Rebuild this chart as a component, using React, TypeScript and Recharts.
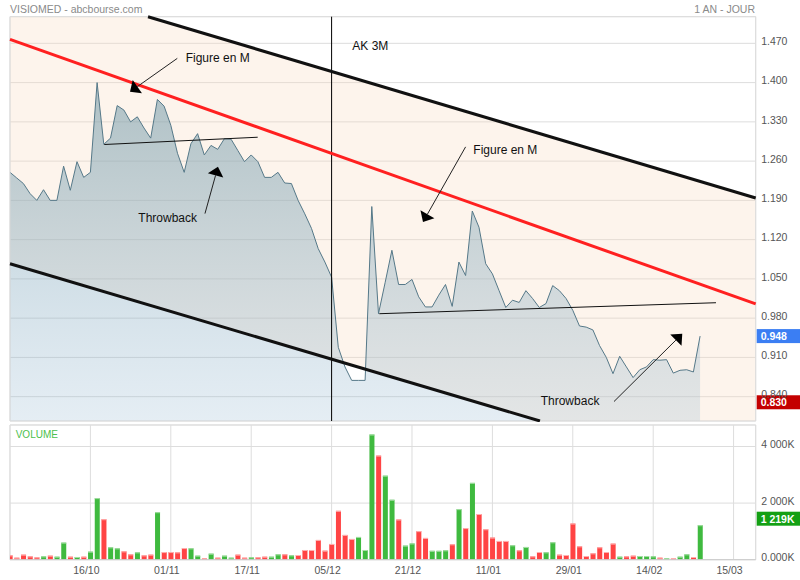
import React from 'react';
import {
  ComposedChart,
  Area,
  Bar,
  XAxis,
  YAxis,
  CartesianGrid,
  ReferenceLine,
  ReferenceArea,
  ReferenceDot,
} from 'recharts';

// daily closes, one per trading session (index 0 = left edge)
const closes = [
  1.240, 1.230, 1.220, 1.202, 1.190, 1.209, 1.190, 1.190, 1.251, 1.208,
  1.259, 1.231, 1.240, 1.400, 1.290, 1.301, 1.359, 1.351, 1.330, 1.339,
  1.319, 1.301, 1.370, 1.358, 1.324, 1.274, 1.240, 1.291, 1.309, 1.271,
  1.288, 1.281, 1.300, 1.299, 1.279, 1.259, 1.271, 1.259, 1.231, 1.231,
  1.240, 1.221, 1.220, 1.190, 1.166, 1.140, 1.104, 1.080, 1.053, 0.928,
  0.893, 0.869, 0.869, 0.869, 1.179, 0.988, 1.044, 1.101, 1.040, 1.040,
  1.049, 1.018, 1.000, 1.000, 1.021, 1.040, 1.001, 1.080, 1.056, 1.171,
  1.142, 1.077, 1.059, 1.029, 0.999, 1.012, 1.008, 1.029, 1.015, 0.999,
  1.006, 1.038, 1.029, 1.015, 0.994, 0.966, 0.964, 0.959, 0.931, 0.910,
  0.881, 0.912, 0.893, 0.874, 0.888, 0.893, 0.906, 0.905, 0.906, 0.882,
  0.887, 0.888, 0.884, 0.948,
];

// volumes in thousands of shares
const volumes = [
  153, 71, 178, 117, 82, 117, 142, 106, 603, 106,
  96, 106, 284, 2176, 1431, 437, 401, 295, 188, 259,
  153, 178, 1679, 270, 270, 259, 412, 401, 142, 46,
  213, 71, 142, 71, 178, 71, 83, 83, 106, 106,
  189, 189, 154, 166, 343, 343, 698, 319, 556, 1727,
  875, 733, 804, 343, 4424, 3679, 2969, 2118, 1420, 497,
  574, 1010, 769, 314, 314, 331, 544, 1787, 1118, 2715,
  1615, 1076, 781, 662, 662, 509, 331, 450, 118, 272,
  260, 615, 177, 166, 1278, 473, 130, 225, 438, 272,
  568, 106, 118, 142, 130, 130, 118, 71, 47, 59,
  106, 189, 95, 1219,
];

// 1 = up session (green), 0 = down session (red)
const volumeUp = [
  0, 0, 0, 0, 0, 1, 0, 1, 1, 0,
  1, 0, 1, 1, 0, 1, 1, 0, 0, 1,
  0, 0, 1, 0, 0, 0, 0, 1, 1, 0,
  1, 0, 1, 1, 0, 0, 1, 0, 0, 1,
  1, 0, 1, 0, 0, 0, 0, 0, 0, 0,
  0, 0, 1, 1, 1, 0, 1, 1, 0, 1,
  1, 0, 0, 1, 1, 1, 0, 1, 0, 1,
  0, 0, 0, 0, 0, 1, 0, 1, 0, 0,
  1, 1, 0, 0, 0, 0, 0, 0, 0, 0,
  0, 1, 0, 0, 1, 1, 1, 0, 1, 0,
  1, 1, 0, 1,
];

const xTicks = [12, 24, 36, 48, 60, 72, 84, 96, 108];
const xTickLabels = ['16/10', '01/11', '17/11', '05/12', '21/12', '11/01', '29/01', '14/02', '15/03'];
const priceTicks = [0.84, 0.91, 0.98, 1.05, 1.12, 1.19, 1.26, 1.33, 1.4, 1.47];
const volumeTicks = [0, 2000, 4000];
const volumeTickLabels = ['0.000K', '2 000K', '4 000K'];

const lastPrice = 0.948;
const lowPrice = 0.83;
const lastVolume = 1219;

// drawn channel (index, price)
const bandX = [0, 111.3];
const bandLow = [1.0771, 0.6824];
const bandHigh = [1.5909, 1.1943];
const channelTop = [{ x: 20.6, y: 1.5175 }, { x: 111.3, y: 1.1943 }];
const channelBottom = [{ x: 0, y: 1.0771 }, { x: 79.1, y: 0.7966 }];
const redTrend = [{ x: 0, y: 1.4771 }, { x: 111.3, y: 1.0053 }];
const necklines = [
  [{ x: 14.07, y: 1.2896 }, { x: 36.97, y: 1.3026 }],
  [{ x: 55.12, y: 0.9879 }, { x: 105.37, y: 1.0075 }],
];
const arrows = [
  [{ x: 24.97, y: 1.4432 }, { x: 17.91, y: 1.3836 }],
  [{ x: 68.0, y: 1.2854 }, { x: 61.64, y: 1.1514 }],
  [{ x: 29.1, y: 1.1664 }, { x: 31.04, y: 1.25 }],
  [{ x: 90.15, y: 0.8313 }, { x: 100.34, y: 0.9521 }],
];
const notes = [
  { x: 26.22, y: 1.4371, text: 'Figure en M' },
  { x: 51.09, y: 1.458, text: 'AK 3M' },
  { x: 69.15, y: 1.2723, text: 'Figure en M' },
  { x: 19.15, y: 1.1509, text: 'Throwback' },
  { x: 79.21, y: 0.8259, text: 'Throwback' },
];
const splitDay = 48;

const FONT = "'Liberation Sans', Arial, Helvetica, sans-serif";
const GRID = '#dddddd';
const X_DOMAIN = [0, 111.3];

const priceData = closes.map((p, i) => ({ x: i, p }));
const bandData = bandX.map((x, i) => ({ x, band: [bandLow[i], bandHigh[i]] }));
const volumeData = volumes.map((v, i) => ({ x: i, v, up: volumeUp[i] === 1 }));

const Arrow = (props: any) => {
  const { x1, y1, x2, y2 } = props;
  const dx = x2 - x1;
  const dy = y2 - y1;
  const len = Math.sqrt(dx * dx + dy * dy) || 1;
  const ux = dx / len;
  const uy = dy / len;
  const bx = x2 - ux * 9;
  const by = y2 - uy * 9;
  const pts = `${x2},${y2} ${bx - uy * 8},${by + ux * 8} ${bx + uy * 8},${by - ux * 8}`;
  return (
    <g>
      <line x1={x1} y1={y1} x2={bx} y2={by} stroke="#222" strokeWidth={1} />
      <polygon points={pts} fill="#000" />
    </g>
  );
};

const Note = (text: string) => (props: any) => (
  <text x={props.cx} y={props.cy} fontSize={12} fill="#111">
    {text}
  </text>
);

const Tag = (text: string, color: string, shift: number) => (props: any) => {
  const vb = props.viewBox || {};
  const right = (vb.x || 0) + (vb.width || 0);
  const y = (vb.y || 0) + shift;
  return (
    <g>
      <rect x={right + 1} y={y - 7} width={44} height={14} fill={color} />
      <text x={right + 5} y={y + 4} fontSize={10.5} fontWeight="bold" fill="#fff">
        {text}
      </text>
    </g>
  );
};

// plain svg text so that "4 000K" is never wrapped
const AxisTick = (format: (v: number) => string) => (props: any) => (
  <text x={props.x} y={props.y + 1.7} fontSize={10.5} fill="#555" textAnchor="start">
    {format(props.payload.value)}
  </text>
);

const VolumeBar = (props: any) => {
  const { x, y, width, height, payload } = props;
  if (!height || height <= 0) return null;
  const up = payload && payload.up;
  return (
    <g>
      <rect x={x} y={y} width={width} height={height} fill={up ? '#3fba3f' : '#ff4444'} />
      <rect x={x} y={y} width={width} height={1} fill={up ? '#a6dea6' : '#ffb0b0'} />
    </g>
  );
};

const PriceChart = () => (
  <ComposedChart width={800} height={422} margin={{ top: 16.7, right: 0, bottom: 1, left: 10 }}>
    <defs>
      <linearGradient id="priceFill" x1="0" y1="0" x2="0" y2="1">
        <stop offset="0%" stopColor="#6e96a5" stopOpacity={0.55} />
        <stop offset="100%" stopColor="#96b9d2" stopOpacity={0.25} />
      </linearGradient>
    </defs>
    <CartesianGrid stroke={GRID} />
    <XAxis
      dataKey="x"
      type="number"
      domain={X_DOMAIN}
      ticks={xTicks}
      allowDataOverflow
      height={0}
      tick={false}
      axisLine={false}
      tickLine={false}
    />
    <YAxis
      orientation="right"
      type="number"
      domain={[0.7966, 1.5175]}
      ticks={priceTicks}
      allowDataOverflow
      width={44.3}
      axisLine={false}
      tickLine={false}
      tickSize={0}
      tickMargin={5.5}
      tick={AxisTick((v) => v.toFixed(3))}
    />
    <Area
      data={bandData}
      dataKey="band"
      type="linear"
      stroke="none"
      fill="#f7dcc0"
      fillOpacity={0.3}
      isAnimationActive={false}
    />
    <Area
      data={priceData}
      dataKey="p"
      type="linear"
      stroke="#557888"
      strokeWidth={1}
      fill="url(#priceFill)"
      fillOpacity={1}
      dot={false}
      activeDot={false}
      isAnimationActive={false}
    />
    <ReferenceArea x1={X_DOMAIN[0]} x2={X_DOMAIN[1]} y1={0.7966} y2={1.5175} fill="none" stroke={GRID} ifOverflow="visible" />
    <ReferenceLine x={splitDay} stroke="#000" strokeWidth={1} />
    <ReferenceLine segment={channelTop} stroke="#111" strokeWidth={3} ifOverflow="visible" />
    <ReferenceLine segment={channelBottom} stroke="#111" strokeWidth={3} ifOverflow="visible" />
    <ReferenceLine segment={redTrend} stroke="#ff2020" strokeWidth={3} ifOverflow="visible" />
    {necklines.map((s, i) => (
      <ReferenceLine key={`n${i}`} segment={s} stroke="#111" strokeWidth={1} ifOverflow="visible" />
    ))}
    {arrows.map((s, i) => (
      <ReferenceLine key={`a${i}`} segment={s} ifOverflow="visible" shape={Arrow} />
    ))}
    {notes.map((n, i) => (
      <ReferenceDot key={`t${i}`} x={n.x} y={n.y} r={0} ifOverflow="visible" shape={Note(n.text)} />
    ))}
    <ReferenceLine y={lastPrice} stroke="none" label={Tag(lastPrice.toFixed(3), '#3b7ef3', 0)} />
    <ReferenceLine y={lowPrice} stroke="none" label={Tag(lowPrice.toFixed(3), '#c40000', 0)} />
  </ComposedChart>
);

const VolumeChart = () => (
  <ComposedChart width={800} height={158} data={volumeData} margin={{ top: 3, right: 0, bottom: 0, left: 10 }}>
    <CartesianGrid stroke={GRID} />
    <XAxis
      dataKey="x"
      type="number"
      domain={X_DOMAIN}
      ticks={xTicks}
      allowDataOverflow
      height={20.3}
      axisLine={{ stroke: '#cccccc' }}
      tickLine={false}
      tickSize={0}
      tickMargin={7}
      tick={{ fill: '#555', fontSize: 10.5, dx: -4 }}
      tickFormatter={(v: number) => xTickLabels[xTicks.indexOf(v)] || ''}
    />
    <YAxis
      orientation="right"
      type="number"
      domain={[0, 4760]}
      ticks={volumeTicks}
      allowDataOverflow
      width={44.3}
      axisLine={false}
      tickLine={false}
      tickSize={0}
      tickMargin={5.5}
      tick={AxisTick((v) => volumeTickLabels[volumeTicks.indexOf(v)] || '')}
    />
    <ReferenceArea x1={X_DOMAIN[0]} x2={X_DOMAIN[1]} y1={0} y2={4760} fill="none" stroke={GRID} ifOverflow="visible" />
    <Bar dataKey="v" barSize={5} shape={VolumeBar} isAnimationActive={false} />
    <ReferenceLine y={lastVolume} stroke="none" label={Tag('1 219K', '#14a014', -6.5)} />
  </ComposedChart>
);

export default function App() {
  return (
    <div
      style={{
        position: 'absolute',
        left: 0,
        top: 0,
        width: 800,
        height: 580,
        background: '#fff',
        fontFamily: FONT,
        overflow: 'hidden',
      }}
    >
      <div style={{ position: 'absolute', left: 0, top: 0 }}>
        <PriceChart />
      </div>
      <div style={{ position: 'absolute', left: 0, top: 422 }}>
        <VolumeChart />
      </div>
      <div style={{ position: 'absolute', left: 10, top: 4.2, fontSize: 10.5, lineHeight: '11px', color: '#8a8a8a', whiteSpace: 'nowrap' }}>
        VISIOMED - abcbourse.com
      </div>
      <div style={{ position: 'absolute', right: 45, top: 4.2, fontSize: 10.5, lineHeight: '11px', color: '#8a8a8a', whiteSpace: 'nowrap' }}>
        1 AN - JOUR
      </div>
      <div style={{ position: 'absolute', left: 15.7, top: 429.8, fontSize: 10, lineHeight: '10px', color: '#4cc04c', whiteSpace: 'nowrap' }}>
        VOLUME
      </div>
    </div>
  );
}
